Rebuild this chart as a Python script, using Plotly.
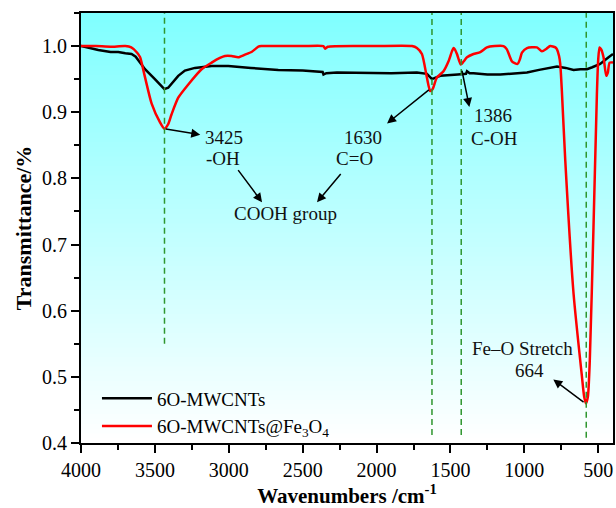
import plotly.graph_objects as go

# ---- data ----
wn_black = [4000, 3950, 3883, 3800, 3748, 3700, 3658, 3630, 3612, 3567, 3500, 3460, 3436, 3410,
            3387, 3342, 3297, 3229, 3116, 3003, 2850, 2665, 2500, 2381, 2365, 2359, 2340, 2268,
            2043, 1900, 1727, 1659, 1625, 1600, 1569, 1450, 1395, 1388, 1370, 1344, 1250, 1163,
            1100, 982, 900, 779, 720, 667, 620, 576, 540, 487, 430, 407, 400]
t_black = [1.0, 0.997, 0.994, 0.991, 0.991, 0.989, 0.988, 0.984, 0.978, 0.965, 0.95, 0.94, 0.935, 0.937,
           0.943, 0.955, 0.963, 0.967, 0.97, 0.97, 0.967, 0.964, 0.963, 0.962, 0.961, 0.957, 0.959, 0.960,
           0.959, 0.959, 0.960, 0.958, 0.950, 0.952, 0.955, 0.957, 0.958, 0.962, 0.959, 0.959, 0.957, 0.957,
           0.958, 0.960, 0.964, 0.969, 0.967, 0.964, 0.965, 0.965, 0.968, 0.973, 0.983, 0.987, 0.988]

wn_red = [4000, 3900, 3800, 3700, 3660, 3620, 3600, 3567, 3522, 3466, 3436, 3410, 3387, 3342, 3274,
          3184, 3116, 3060, 3026, 2981, 2936, 2890, 2846, 2800, 2780, 2500, 2360, 2347, 2330, 2000,
          1760, 1727, 1693, 1659, 1637, 1620, 1593, 1547, 1513, 1490, 1479, 1470, 1456, 1430, 1410,
          1388, 1344, 1298, 1253, 1200, 1141, 1118, 1100, 1084, 1046, 1030, 1016, 982, 915, 881,
          850, 825, 790, 779, 765, 757, 746, 723, 667, 610, 595, 583, 570, 557, 532, 509, 500,
          491, 480, 464, 446, 435, 423, 400]
t_red = [1.0, 1.0, 0.999, 1.0, 0.998, 0.99, 0.983, 0.953, 0.913, 0.885, 0.875, 0.882, 0.897, 0.922, 0.942,
         0.965, 0.975, 0.982, 0.985, 0.985, 0.983, 0.987, 0.991, 0.999, 1.0, 1.0, 1.0, 0.996, 0.999, 1.0,
         1.0, 0.997, 0.988, 0.952, 0.932, 0.935, 0.952, 0.962, 0.977, 0.992, 0.997, 0.995, 0.988, 0.972, 0.977,
         0.983, 0.988, 0.991, 0.998, 1.0, 1.0, 0.995, 0.985, 0.977, 0.973, 0.98, 0.990, 0.997, 0.998, 0.992,
         0.996, 1.0, 0.998, 0.995, 0.985, 0.973, 0.932, 0.827, 0.626, 0.5, 0.47, 0.46, 0.47, 0.525, 0.726, 0.927, 0.98,
         0.998, 0.995, 0.983, 0.955, 0.96, 0.975, 0.975]

series_names = ["6O-MWCNTs", "6O-MWCNTs@Fe<sub>3</sub>O<sub>4</sub>"]
series_colors = ["#000000", "#ff0000"]

x_ticks = [4000, 3500, 3000, 2500, 2000, 1500, 1000, 500]
y_ticks = [0.4, 0.5, 0.6, 0.7, 0.8, 0.9, 1.0]

# dashed marker lines: position, lower end
vline_pos = [3435, 1625, 1427, 581]
vline_bottom = [0.55, 0.412, 0.412, 0.408]

# annotation texts: (text, x, y)
labels = [
    ("3425", 3030, 0.862),
    ("-OH", 3040, 0.8306),
    ("1630", 2093, 0.862),
    ("C=O", 2151, 0.8306),
    ("COOH group", 2618, 0.747),
    ("1386", 1210, 0.8947),
    ("C-OH", 1203, 0.8608),
    ("Fe\u2013O Stretch", 1012, 0.5425),
    ("664", 962, 0.5094),
]
# arrows: (head x, head y, tail x, tail y)
arrows = [
    (3193, 0.866, 3436, 0.875),
    (1929, 0.883, 1636, 0.9355),
    (2775, 0.764, 2944, 0.8148),
    (2403, 0.764, 2234, 0.809),
    (1372, 0.908, 1424, 0.965),
    (804, 0.496, 589, 0.460),
]

FONT = "Liberation Serif, Times New Roman, serif"

fig = go.Figure()
fig.add_trace(go.Scatter(x=wn_black, y=t_black, mode="lines", name=series_names[0],
                         line=dict(color=series_colors[0], width=2.5)))
fig.add_trace(go.Scatter(x=wn_red, y=t_red, mode="lines", name=series_names[1],
                         line=dict(color=series_colors[1], width=2.5, shape="spline", smoothing=0.6)))

shapes = []
# vertical gradient background (cyan at top -> white at bottom)
n_bands = 90
for i in range(n_bands):
    f = i / (n_bands - 1)
    r = int(round(255 - (255 - 128) * f))
    shapes.append(dict(type="rect", xref="x domain", yref="y domain",
                       x0=0, x1=1, y0=i / n_bands, y1=(i + 1) / n_bands + 0.002,
                       fillcolor=f"rgb({r},255,255)", line=dict(width=0), layer="below"))
for xp, yb in zip(vline_pos, vline_bottom):
    shapes.append(dict(type="line", xref="x", yref="y", x0=xp, x1=xp, y0=yb, y1=1.05,
                       line=dict(color="#2f962f", width=1.5, dash="6px,4px")))

annotations = []
for txt, ax_, ay_ in labels:
    annotations.append(dict(text=txt, x=ax_, y=ay_, xref="x", yref="y", showarrow=False,
                            font=dict(family=FONT, size=19, color="#111111")))
for hx, hy, tx, ty in arrows:
    annotations.append(dict(text="", x=hx, y=hy, ax=tx, ay=ty, xref="x", yref="y",
                            axref="x", ayref="y", showarrow=True, arrowhead=2, arrowsize=1.2,
                            arrowwidth=1.5, arrowcolor="#000000"))

fig.update_layout(
    width=616, height=508,
    margin=dict(l=81, r=3, t=13, b=65, autoexpand=False),
    paper_bgcolor="white", plot_bgcolor="white",
    font=dict(family=FONT, size=20, color="#000000"),
    shapes=shapes, annotations=annotations,
    showlegend=True,
    legend=dict(x=0.03, y=0.148, xanchor="left", yanchor="top", bgcolor="rgba(0,0,0,0)",
                font=dict(family=FONT, size=19), tracegroupgap=0, itemwidth=50),
)
fig.update_xaxes(
    range=[4000, 400], tickvals=x_ticks, ticktext=[str(v) for v in x_ticks],
    ticks="outside", ticklen=8, tickwidth=2, tickcolor="black",
    minor=dict(dtick=250, tick0=0, ticks="outside", ticklen=5, tickwidth=2, tickcolor="black"),
    showline=True, linewidth=2, linecolor="black", mirror=True, showgrid=False, zeroline=False,
    tickfont=dict(family=FONT, size=20), automargin=False,
    title=dict(text="<b>Wavenumbers /cm<sup>-1</sup></b>", font=dict(family=FONT, size=21), standoff=4),
)
fig.update_yaxes(
    range=[0.4, 1.05], tickvals=y_ticks, ticktext=[f"{v:.1f}" for v in y_ticks],
    ticks="outside", ticklen=8, tickwidth=2, tickcolor="black",
    minor=dict(dtick=0.05, tick0=0.4, ticks="outside", ticklen=5, tickwidth=2, tickcolor="black"),
    showline=True, linewidth=2, linecolor="black", mirror=True, showgrid=False, zeroline=False,
    tickfont=dict(family=FONT, size=20), automargin=False,
    title=dict(text="<b>Transmittance/%</b>", font=dict(family=FONT, size=22), standoff=4),
)

fig.write_html("out.html", config={"displayModeBar": False},
               post_script="document.body.style.margin='0';document.body.style.padding='0';"
                           "document.body.style.overflow='hidden';")
